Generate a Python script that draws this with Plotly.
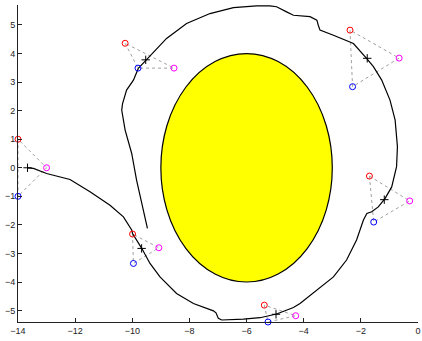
import plotly.graph_objects as go

# Black path
path_x = [-13.66, -13.46, -13.00, -12.18, -11.48, -10.78, -10.31, -10.02, -9.99, -9.67,
          -9.38, -9.03, -8.45, -7.86, -7.16, -7.07, -6.99, -6.87, -6.11, -5.53,
          -4.95, -4.36, -4.13, -3.55, -2.96, -2.50, -2.15, -1.91, -1.79, -1.62,
          -1.39, -1.15, -0.92, -0.75, -0.72, -0.80, -0.98, -1.27, -1.56, -1.80,
          -2.26, -2.96, -3.43, -3.49, -3.54, -3.78, -4.36, -4.60, -4.95, -5.18,
          -5.65, -6.46, -7.28, -8.10, -8.80, -9.50, -9.79, -9.96, -10.20, -10.34,
          -10.37, -10.25, -10.02, -9.85, -9.67, -9.47]
path_y = [0.00, -0.02, -0.20, -0.41, -0.84, -1.31, -1.72, -2.18, -2.30, -2.82,
          -3.35, -3.82, -4.40, -4.75, -5.01, -5.08, -5.27, -5.33, -5.30, -5.25,
          -5.12, -4.89, -4.75, -4.28, -3.82, -3.23, -2.53, -1.83, -1.60, -1.54,
          -1.37, -1.07, -0.67, 0.04, 0.74, 1.67, 2.37, 3.07, 3.54, 3.83,
          4.35, 4.64, 4.82, 4.99, 5.17, 5.29, 5.34, 5.46, 5.64, 5.67,
          5.67, 5.61, 5.40, 5.05, 4.53, 3.79, 3.48, 3.07, 2.72, 2.25,
          2.02, 1.32, 0.50, -0.43, -1.25, -2.12]

# Sensor triangles: red, blue, magenta vertices
red_x = [-14.00, -10.25, -2.38, -1.70, -9.99, -5.38]
red_y = [1.00, 4.36, 4.82, -0.29, -2.32, -4.81]
blue_x = [-14.00, -9.80, -2.29, -1.55, -9.96, -5.25]
blue_y = [-1.00, 3.49, 2.84, -1.90, -3.35, -5.40]
mag_x = [-13.00, -8.54, -0.66, -0.29, -9.07, -4.28]
mag_y = [0.00, 3.49, 3.84, -1.16, -2.80, -5.18]

# Yellow obstacle (ellipse)
ell_cx, ell_cy = -6.0, 0.0
ell_rx, ell_ry = 3.0, 4.0

x_ticks = [-14, -12, -10, -8, -6, -4, -2, 0]
y_ticks = [-5, -4, -3, -2, -1, 0, 1, 2, 3, 4, 5]
x_range = [-14, 0]
y_range = [-5.40, 5.70]

fig = go.Figure()

# dotted triangles
tx, ty = [], []
for i in range(len(red_x)):
    tx += [red_x[i], blue_x[i], mag_x[i], red_x[i], None]
    ty += [red_y[i], blue_y[i], mag_y[i], red_y[i], None]
fig.add_trace(go.Scatter(x=tx, y=ty, mode="lines",
                         line=dict(color="#a0a0a0", width=1, dash="dot"),
                         hoverinfo="skip", cliponaxis=False))

fig.add_trace(go.Scatter(x=path_x, y=path_y, mode="lines",
                         line=dict(color="black", width=1.2), cliponaxis=False))

# centroids
cx = [(red_x[i] + blue_x[i] + mag_x[i]) / 3 for i in range(len(red_x))]
cy = [(red_y[i] + blue_y[i] + mag_y[i]) / 3 for i in range(len(red_y))]
fig.add_trace(go.Scatter(x=cx, y=cy, mode="markers",
                         marker=dict(symbol="cross-thin-open", size=6, color="black",
                                     line=dict(color="black", width=1)),
                         cliponaxis=False))

for xs, ys, col in [(red_x, red_y, "red"), (blue_x, blue_y, "blue"),
                    (mag_x, mag_y, "magenta")]:
    fig.add_trace(go.Scatter(x=xs, y=ys, mode="markers",
                             marker=dict(symbol="circle-open", size=6, color=col,
                                         line=dict(color=col, width=1)),
                             cliponaxis=False))

fig.add_shape(type="circle", xref="x", yref="y",
              x0=ell_cx - ell_rx, x1=ell_cx + ell_rx,
              y0=ell_cy - ell_ry, y1=ell_cy + ell_ry,
              fillcolor="yellow", line=dict(color="black", width=1.2),
              layer="below")

axis_common = dict(showgrid=False, zeroline=False, showline=True, automargin=False,
                   linecolor="#222", linewidth=1, ticks="inside", ticklen=4,
                   tickcolor="#222", tickfont=dict(family="Liberation Sans",
                                                   size=9, color="#222"))
fig.update_layout(
    width=422, height=341,
    margin=dict(l=18, r=4, t=5, b=19),
    paper_bgcolor="white", plot_bgcolor="white",
    showlegend=False,
    xaxis=dict(range=x_range, tickvals=x_ticks, **axis_common),
    yaxis=dict(range=y_range, tickvals=y_ticks, **axis_common),
)

fig.write_html("out.html", config={"displayModeBar": False, "staticPlot": True},
               post_script="document.body.style.margin='0';document.body.style.overflow='hidden';")
